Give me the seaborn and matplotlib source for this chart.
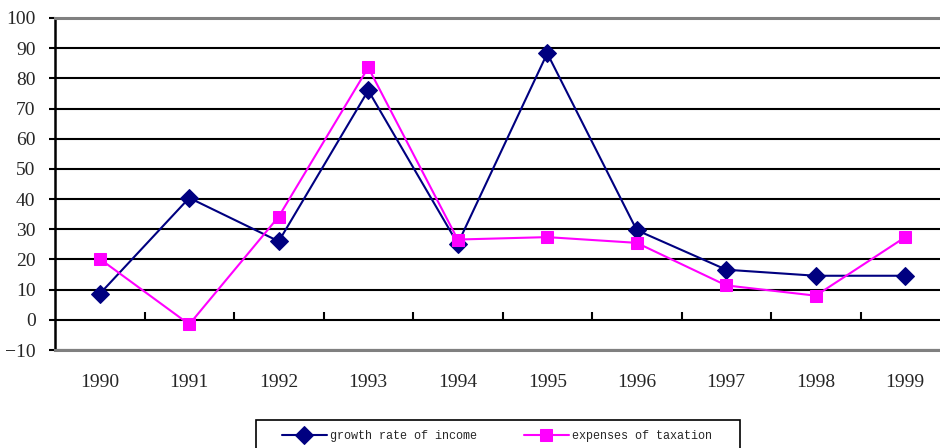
import numpy as np
import pandas as pd
import seaborn as sns
import matplotlib.pyplot as plt
from matplotlib.patches import Rectangle

years = ["1990", "1991", "1992", "1993", "1994", "1995", "1996", "1997", "1998", "1999"]
income = [8.6, 40.4, 26.0, 76.0, 25.2, 88.3, 29.7, 16.6, 14.6, 14.6]
taxation = [20.2, -1.5, 34.2, 83.6, 26.6, 27.4, 25.5, 11.4, 8.0, 27.4]
yticks = list(range(-10, 101, 10))

df = pd.DataFrame({"pos": np.arange(len(years)), "income": income, "taxation": taxation})

sns.set_style("white")
plt.rcParams["font.family"] = ["Liberation Serif", "DejaVu Serif"]

fig = plt.figure(figsize=(9.4, 4.48), dpi=100)
ax = fig.add_axes([55 / 940, 1 - 350 / 448, 895 / 940, 332 / 448])

sns.lineplot(data=df, x="pos", y="income", ax=ax, color="#000080", marker="D",
             markersize=9, markeredgecolor="#000080", linewidth=1.5,
             label="growth rate of income", zorder=3)
sns.lineplot(data=df, x="pos", y="taxation", ax=ax, color="#FF00FF", marker="s",
             markersize=9, markeredgecolor="#FF00FF", linewidth=1.5,
             label="expenses of taxation", zorder=3)

ax.set_xlim(-0.5, len(years) - 0.5)
ax.set_ylim(-10, 100)
ax.set_yticks(yticks)
ax.set_yticklabels([str(v).replace("-", "\u2212") for v in yticks], fontsize=14)
ax.set_xticks(df["pos"])
ax.set_xticklabels(years, fontsize=14)
ax.tick_params(axis="x", length=0, pad=17)
ax.tick_params(axis="y", length=4, width=1.5, color="black", direction="out", pad=10, left=True)
ax.set_xlabel("")
ax.set_ylabel("")

ax.set_axisbelow(True)
ax.yaxis.grid(True, color="black", linewidth=1.5)
ax.xaxis.grid(False)

for side in ["top", "bottom"]:
    ax.spines[side].set_color("#808080")
    ax.spines[side].set_linewidth(2.2)
ax.spines["left"].set_color("black")
ax.spines["left"].set_linewidth(1.8)
ax.spines["right"].set_visible(False)

# category axis sits on the zero line
zero = ax.secondary_xaxis(10 / 110)
zero.set_xticks(np.arange(0.5, len(years) - 1, 1.0))
zero.set_xticklabels([])
zero.tick_params(direction="in", length=6, width=1.5, color="black")
zero.spines["bottom"].set_visible(False)

# legend box (frame drawn separately, it runs off the bottom)
fig.patches.append(Rectangle((256 / 940, -0.05), 484 / 940, 0.05 + 1 - 420 / 448,
                             transform=fig.transFigure, fill=False,
                             edgecolor="black", linewidth=1.2))
ax.legend(loc="center left", bbox_to_anchor=(282 / 940, 1 - 436 / 448),
          bbox_transform=fig.transFigure, ncol=2, frameon=False,
          prop={"family": "Liberation Mono", "size": 8.5},
          handlelength=3.8, handletextpad=0.25, columnspacing=4.0,
          borderpad=0, borderaxespad=0)

fig.savefig("out.png", dpi=100)
